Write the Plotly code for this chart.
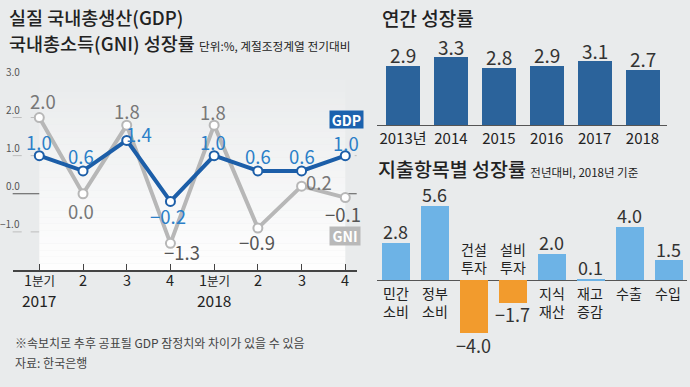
import plotly.graph_objects as go

# ---------------- data ----------------
quarters = ["1분기", "2", "3", "4", "1분기", "2", "3", "4"]
year_labels = ["2017", "2018"]
year_pos = [0, 4]
gdp = [1.0, 0.6, 1.4, -0.2, 1.0, 0.6, 0.6, 1.0]
gni = [2.0, 0.0, 1.8, -1.3, 1.8, -0.9, 0.2, -0.1]
y_ticks = [3.0, 2.0, 1.0, 0.0, -1.0]
grid_vals = [2.0, 1.0, -1.0]

annual_years = ["2013년", "2014", "2015", "2016", "2017", "2018"]
annual_growth = [2.9, 3.3, 2.8, 2.9, 3.1, 2.7]

items = ["민간<br>소비", "정부<br>소비", "건설<br>투자", "설비<br>투자",
         "지식<br>재산", "재고<br>증감", "수출", "수입"]
item_growth = [2.8, 5.6, -4.0, -1.7, 2.0, 0.1, 4.0, 1.5]

# ---------------- style ----------------
W, H = 690, 387
BG = "#e9ebec"
NUM = "Liberation Sans Narrow, Arial Narrow, Noto Sans CJK KR, sans-serif"
KR = "Noto Sans CJK KR, sans-serif"
GDP_C = "#1c5ea8"
GDP_T = "#2b7fc8"
GNI_C = "#b7b7b7"
GNI_T = "#777777"


def px(x):
    return x / W


def py(y):
    return 1 - y / H


def fmt(v):
    return f"{v:.1f}".replace("-", "\u2212")


def qlabel(q):
    # shrink the Korean part so it is as narrow as in the reference
    if q.endswith("분기"):
        return q[:-2] + "<span style='font-size:12.5px'>분기</span>"
    return q


fig = go.Figure()

# ---------- left: quarterly line chart ----------
fig.add_trace(go.Scatter(
    x=list(range(len(gni))), y=gni, mode="lines+markers",
    line=dict(color=GNI_C, width=4),
    marker=dict(size=9, color="white", line=dict(color=GNI_C, width=2)),
    xaxis="x", yaxis="y", cliponaxis=False, hoverinfo="skip"))
fig.add_trace(go.Scatter(
    x=list(range(len(gdp))), y=gdp, mode="lines+markers",
    line=dict(color=GDP_C, width=4),
    marker=dict(size=9, color="white", line=dict(color=GDP_C, width=2)),
    xaxis="x", yaxis="y", cliponaxis=False, hoverinfo="skip"))

# ---------- right top: annual bars ----------
fig.add_trace(go.Bar(
    x=annual_years, y=annual_growth, width=0.71,
    marker=dict(color="#2b639b", line=dict(width=0)),
    xaxis="x2", yaxis="y2", hoverinfo="skip"))

# ---------- right bottom: expenditure bars ----------
fig.add_trace(go.Bar(
    x=list(range(len(item_growth))), y=item_growth, width=0.72,
    marker=dict(color=["#6db3e6" if v >= 0 else "#f29b2d" for v in item_growth],
                line=dict(width=0)),
    xaxis="x3", yaxis="y3", hoverinfo="skip"))

shapes = []
# gradient plot background (left)
n_band = 30
y_lo, y_hi = -2.0, 3.2
top_c = (233, 235, 236)
bot_c = (254, 254, 254)
for i in range(n_band):
    t = i / (n_band - 1)
    c = tuple(int(round(top_c[k] + (bot_c[k] - top_c[k]) * t)) for k in range(3))
    y1 = y_hi - (y_hi - y_lo) * i / n_band
    y0 = y_hi - (y_hi - y_lo) * (i + 1) / n_band
    shapes.append(dict(type="rect", xref="x", yref="y", x0=0, x1=7, y0=y0, y1=y1,
                       fillcolor=f"rgb{c}", line=dict(width=0), layer="below"))
for g in grid_vals:
    shapes.append(dict(type="line", xref="x domain", yref="y", x0=0, x1=1, y0=g, y1=g,
                       line=dict(color="#bdbdbd", width=1, dash="dash"), layer="below"))
shapes.append(dict(type="line", xref="x domain", yref="y", x0=0, x1=1, y0=0, y1=0,
                   line=dict(color="#555555", width=1), layer="below"))

ann = []
# y tick labels (left)
for v in y_ticks:
    ann.append(dict(xref="paper", yref="y", x=px(22), y=v, yshift=8, xanchor="right",
                    yanchor="middle", text=fmt(v),
                    showarrow=False, font=dict(family=NUM, size=10, color="#555555")))
# quarter labels
for i, q in enumerate(quarters):
    ann.append(dict(xref="x", yref="paper", x=i, y=py(279.5), xanchor="center",
                    yanchor="middle", text=qlabel(q), showarrow=False,
                    font=dict(family=NUM, size=14.5, color="#222222")))
# year labels
for lab, pos in zip(year_labels, year_pos):
    ann.append(dict(xref="x", yref="paper", x=pos, y=py(300), xanchor="center",
                    yanchor="middle", text=lab, showarrow=False,
                    font=dict(family=NUM, size=15.5, color="#222222")))

gdp_off = [(0, 14), (-2, 15), (12, 6), (-2, -15), (-1, 14), (0, 15), (0, 15), (1, 13)]
gni_off = [(4, 17), (-2, -17), (0, 14), (12, -9), (-1, 13), (-1, -14), (17, 4), (-2, -16)]
for i, (v, (dx, dy)) in enumerate(zip(gdp, gdp_off)):
    ann.append(dict(xref="x", yref="y", x=i, y=v, xshift=dx, yshift=dy, text=fmt(v),
                    showarrow=False, xanchor="center", yanchor="middle",
                    font=dict(family=NUM, size=18.5, color=GDP_T)))
for i, (v, (dx, dy)) in enumerate(zip(gni, gni_off)):
    col = GNI_T if v >= 0 else "#555555"
    ann.append(dict(xref="x", yref="y", x=i, y=v, xshift=dx, yshift=dy, text=fmt(v),
                    showarrow=False, xanchor="center", yanchor="middle",
                    font=dict(family=NUM, size=18.5, color=col)))

# legend boxes
ann.append(dict(xref="paper", yref="paper", x=px(346.5), y=py(119.5), text="<b>GDP</b>",
                showarrow=False, bgcolor="#1b62ae", width=31, height=15, borderpad=1,
                xanchor="center", yanchor="middle",
                font=dict(family=NUM, size=14, color="white")))
ann.append(dict(xref="paper", yref="paper", x=px(345), y=py(236), text="<b>GNI</b>",
                showarrow=False, bgcolor="#b9b9b9", width=28, height=16, borderpad=1,
                xanchor="center", yanchor="middle",
                font=dict(family=NUM, size=14, color="white")))

# value labels for annual bars (positioned by category index)
for i, v in enumerate(annual_growth):
    ann.append(dict(xref="x2", yref="y2", x=i, y=v, yshift=11, xanchor="center",
                    yanchor="middle", text=fmt(v), showarrow=False,
                    font=dict(family=NUM, size=19, color="#333333")))

# value + category labels for expenditure chart
for i, (lab, v) in enumerate(zip(items, item_growth)):
    sgn = 1 if v >= 0 else -1
    ann.append(dict(xref="x3", yref="y3", x=i, y=v, yshift=11.5 * sgn, xanchor="center",
                    yanchor="middle", text=fmt(v), showarrow=False,
                    font=dict(family=NUM, size=18, color="#333333")))
    if v >= 0:
        ann.append(dict(xref="x3", yref="y3", x=i, y=0, yshift=-1, yanchor="top",
                        xanchor="center", text=lab, showarrow=False,
                        font=dict(family=KR, size=14, color="#222222")))
    else:
        ann.append(dict(xref="x3", yref="y3", x=i, y=0, yshift=1, yanchor="bottom",
                        xanchor="center", text=lab, showarrow=False,
                        font=dict(family=KR, size=14, color="#222222")))

# titles
TITLE_W = 500
ann.append(dict(xref="paper", yref="paper", x=px(7), y=py(17), xanchor="left", yanchor="middle",
                text="실질 국내총생산(GDP)", showarrow=False,
                font=dict(family=KR, size=18.5, color="#222222", weight=TITLE_W)))
ann.append(dict(xref="paper", yref="paper", x=px(7), y=py(43), xanchor="left", yanchor="middle",
                text="국내총소득(GNI) 성장률 <span style='font-size:11.7px;font-weight:400'>단위:%, 계절조정계열 전기대비</span>",
                showarrow=False, font=dict(family=KR, size=18.5, color="#222222", weight=TITLE_W)))
ann.append(dict(xref="paper", yref="paper", x=px(380), y=py(18), xanchor="left", yanchor="middle",
                text="연간 성장률", showarrow=False,
                font=dict(family=KR, size=19, color="#222222", weight=TITLE_W)))
ann.append(dict(xref="paper", yref="paper", x=px(376), y=py(168), xanchor="left", yanchor="middle",
                text="지출항목별 성장률 <span style='font-size:11.5px;font-weight:400'>전년대비, 2018년 기준</span>",
                showarrow=False, font=dict(family=KR, size=19.5, color="#222222", weight=TITLE_W)))
# footer
ann.append(dict(xref="paper", yref="paper", x=px(13), y=py(342), xanchor="left", yanchor="middle",
                text="※속보치로 추후 공표될 GDP 잠정치와 차이가 있을 수 있음", showarrow=False,
                font=dict(family=KR, size=12, color="#444444")))
ann.append(dict(xref="paper", yref="paper", x=px(13), y=py(362), xanchor="left", yanchor="middle",
                text="자료: 한국은행", showarrow=False,
                font=dict(family=KR, size=12, color="#444444")))

fig.update_layout(
    width=W, height=H, margin=dict(l=0, r=0, t=0, b=0),
    paper_bgcolor=BG, plot_bgcolor="rgba(0,0,0,0)",
    showlegend=False, bargap=0,
    shapes=shapes, annotations=ann,
    xaxis=dict(domain=[px(12.7), px(356.7)], range=[-0.6086, 7.261],
               tickvals=list(range(len(quarters))), showticklabels=False,
               ticks="inside", ticklen=6, tickcolor="#444444", tickwidth=1,
               showline=True, linecolor="#444444", linewidth=1.5, showgrid=False,
               zeroline=False, fixedrange=True),
    yaxis=dict(domain=[py(270), py(79.4)], range=[-2, 3], visible=False, fixedrange=True),
    xaxis2=dict(domain=[px(377), px(667)], range=[-0.543, 5.511], type="category",
                showline=True, linecolor="#555555", linewidth=1, ticks="", showgrid=False,
                tickfont=dict(family=NUM, size=15, color="#222222"), anchor="y2",
                fixedrange=True),
    yaxis2=dict(domain=[py(125), py(43)], range=[0, 4], visible=False, anchor="x2",
                fixedrange=True),
    xaxis3=dict(domain=[px(376.7), px(686.7)], range=[-0.4906, 7.472],
                showticklabels=False, showline=False, ticks="", showgrid=False,
                zeroline=False, anchor="y3", fixedrange=True),
    yaxis3=dict(domain=[py(346.5), py(186.9)], range=[-5, 7], showticklabels=False,
                showgrid=False, zeroline=True, zerolinecolor="#555555", zerolinewidth=1,
                anchor="x3", fixedrange=True),
)

fig.write_html("out.html", config={"displayModeBar": False},
               post_script="document.body.style.margin='0';document.body.style.padding='0';")
